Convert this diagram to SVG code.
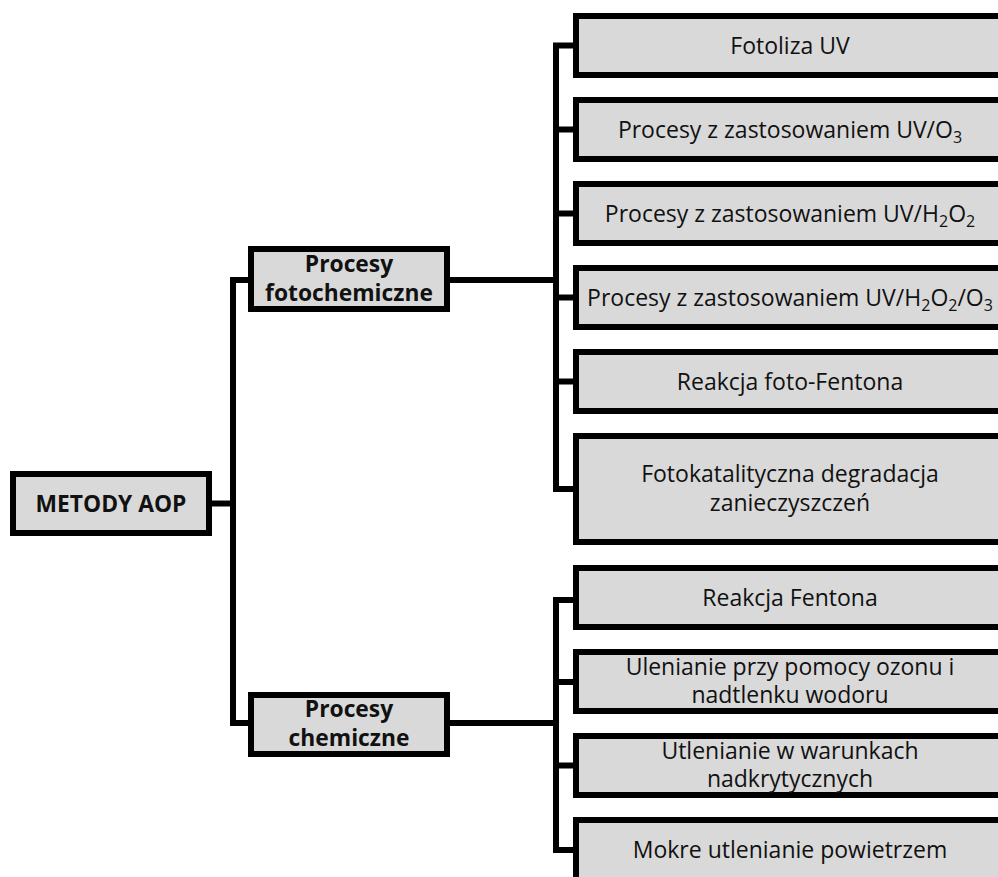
<svg xmlns="http://www.w3.org/2000/svg" width="998" height="877" viewBox="0 0 998 877">
<style>
.box{fill:#d9d9d9;stroke:#000;stroke-width:6}
.t{font-family:"Open Sans","DejaVu Sans",sans-serif;font-size:23px;fill:#111;text-anchor:middle}
.b{font-family:"Open Sans","DejaVu Sans",sans-serif;font-size:22.8px;font-weight:bold;fill:#111;text-anchor:middle}
.c{fill:none;stroke:#000;stroke-width:6;stroke-linejoin:miter}
.s{font-size:16px}
</style>
<rect width="998" height="877" fill="#fff"/>
<g id="connectors">
<path class="c" d="M212 503.5H233"/>
<path class="c" d="M248 280H233V723H248"/>
<path class="c" d="M450 280H556"/>
<path class="c" d="M573 45.5H556V489H573"/>
<path class="c" d="M556 129.5H573M556 213.5H573M556 297.5H573M556 381.5H573"/>
<path class="c" d="M450 723H556"/>
<path class="c" d="M573 600H556V850H573"/>
<path class="c" d="M556 682H573M556 765.5H573"/>
</g>
<g id="root"><rect class="box" x="13" y="474" width="196" height="59"/><text class="b" x="111" y="511.5">METODY AOP</text></g>
<g id="fotochem"><rect class="box" x="251" y="249" width="196" height="60"/><text class="b" x="349" y="272">Procesy</text><text class="b" x="349" y="301">fotochemiczne</text></g>
<g id="chem"><rect class="box" x="251" y="695" width="196" height="59"/><text class="b" x="349" y="717">Procesy</text><text class="b" x="349" y="746">chemiczne</text></g>
<g id="n1"><rect class="box" x="576" y="16" width="440" height="59"/><text class="t" x="790" y="53.5">Fotoliza UV</text></g>
<g id="n2"><rect class="box" x="576" y="100" width="440" height="59"/><text class="t" x="790" y="137.5">Procesy z zastosowaniem UV/O<tspan class="s" dy="5">3</tspan></text></g>
<g id="n3"><rect class="box" x="576" y="184" width="440" height="59"/><text class="t" x="790" y="221.5">Procesy z zastosowaniem UV/H<tspan class="s" dy="5">2</tspan><tspan dy="-5">O</tspan><tspan class="s" dy="5">2</tspan></text></g>
<g id="n4"><rect class="box" x="576" y="268" width="440" height="59"/><text class="t" x="790" y="305.5">Procesy z zastosowaniem UV/H<tspan class="s" dy="5">2</tspan><tspan dy="-5">O</tspan><tspan class="s" dy="5">2</tspan><tspan dy="-5">/O</tspan><tspan class="s" dy="5">3</tspan></text></g>
<g id="n5"><rect class="box" x="576" y="352" width="440" height="59"/><text class="t" x="790" y="389.5">Reakcja foto-Fentona</text></g>
<g id="n6"><rect class="box" x="576" y="436" width="440" height="106"/><text class="t" x="790" y="482">Fotokatalityczna degradacja</text><text class="t" x="790" y="511">zanieczyszczeń</text></g>
<g id="n7"><rect class="box" x="576" y="568" width="440" height="59"/><text class="t" x="790" y="605.5">Reakcja Fentona</text></g>
<g id="n8"><rect class="box" x="576" y="652" width="440" height="59"/><text class="t" x="790" y="675">Ulenianie przy pomocy ozonu i</text><text class="t" x="790" y="703">nadtlenku wodoru</text></g>
<g id="n9"><rect class="box" x="576" y="736" width="440" height="59"/><text class="t" x="790" y="759">Utlenianie w warunkach</text><text class="t" x="790" y="787">nadkrytycznych</text></g>
<g id="n10"><rect class="box" x="576" y="820" width="440" height="80"/><text class="t" x="790" y="858">Mokre utlenianie powietrzem</text></g>
</svg>
